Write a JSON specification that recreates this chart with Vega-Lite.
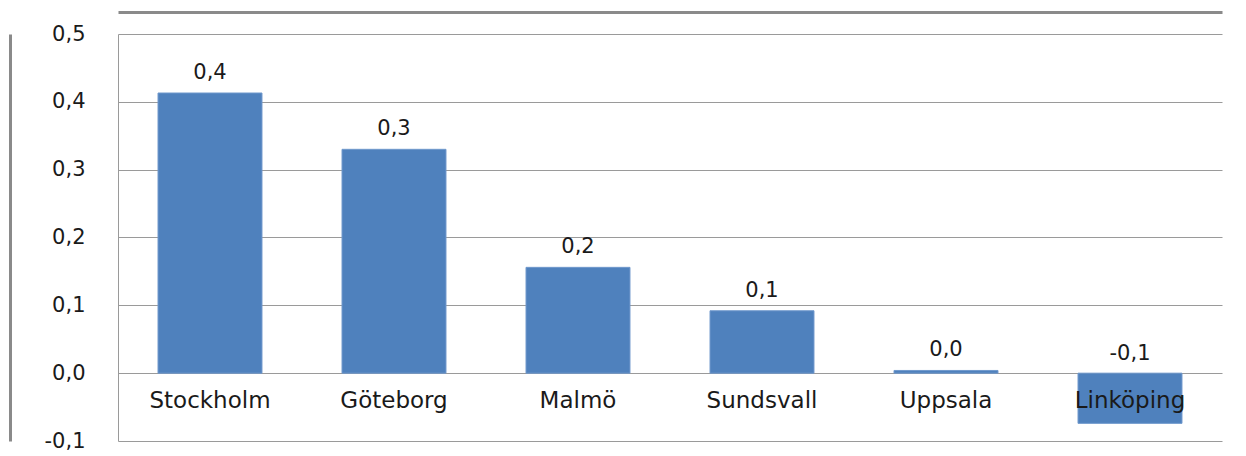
{
  "$schema": "https://vega.github.io/schema/vega-lite/v6.json",
  "width": 1104,
  "height": 407,
  "autosize": {"type": "none"},
  "padding": {"left": 118, "top": 34, "right": 24, "bottom": 15},
  "background": "white",
  "config": {
    "locale": {"number": {"decimal": ",", "thousands": " ", "grouping": [3], "currency": ["", " kr"], "minus": "-"}},
    "view": {"stroke": null},
    "font": "DejaVu Sans"
  },
  "data": {"values": [
    {"city": "Stockholm", "value": 0.413},
    {"city": "Göteborg", "value": 0.330},
    {"city": "Malmö", "value": 0.156},
    {"city": "Sundsvall", "value": 0.092},
    {"city": "Uppsala", "value": 0.004},
    {"city": "Linköping", "value": -0.074}
  ]},
  "encoding": {
    "x": {"field": "city", "type": "nominal", "sort": null, "axis": null,
          "scale": {"paddingInner": 0.435, "paddingOuter": 0.2175}}
  },
  "resolve": {"axis": {"y": "independent", "x": "independent"}},
  "layer": [
    {
      "mark": {"type": "bar", "color": "#4f81bd", "stroke": "#6f98cc", "strokeWidth": 1},
      "encoding": {
        "y": {"field": "value", "type": "quantitative",
              "scale": {"domain": [-0.1, 0.5], "nice": false, "zero": false},
              "axis": {"title": null, "values": [-0.1, 0, 0.1, 0.2, 0.3, 0.4, 0.5], "format": ".1f",
                       "ticks": false, "labelPadding": 33, "labelFontSize": 21, "labelColor": "#1a1a1a",
                       "grid": true, "gridColor": "#9a9a9a", "gridWidth": 1,
                       "domain": true, "domainColor": "#9a9a9a", "domainWidth": 1}}
      }
    },
    {
      "transform": [{"filter": "datum.value >= 0"}],
      "mark": {"type": "text", "dy": -20, "fontSize": 21, "color": "#1a1a1a"},
      "encoding": {
        "y": {"field": "value", "type": "quantitative", "axis": null},
        "text": {"field": "value", "type": "quantitative", "format": ".1f"}
      }
    },
    {
      "transform": [{"filter": "datum.value < 0"}],
      "mark": {"type": "text", "dy": -19, "fontSize": 21, "color": "#1a1a1a"},
      "encoding": {
        "y": {"datum": 0, "type": "quantitative", "axis": null},
        "text": {"field": "value", "type": "quantitative", "format": ".1f"}
      }
    },
    {
      "mark": {"type": "text", "dy": 28, "fontSize": 23, "color": "#1a1a1a"},
      "encoding": {
        "x": {"field": "city", "type": "nominal", "sort": null,
              "axis": {"orient": "top", "title": null, "labels": false, "ticks": false, "grid": false,
                       "domain": true, "domainColor": "#8a8a8a", "domainWidth": 3, "offset": 22}},
        "y": {"datum": 0, "type": "quantitative",
              "axis": {"orient": "left", "title": null, "labels": false, "ticks": false, "grid": false,
                       "domain": true, "domainColor": "#8a8a8a", "domainWidth": 3, "offset": 108}},
        "text": {"field": "city"}
      }
    }
  ]
}
